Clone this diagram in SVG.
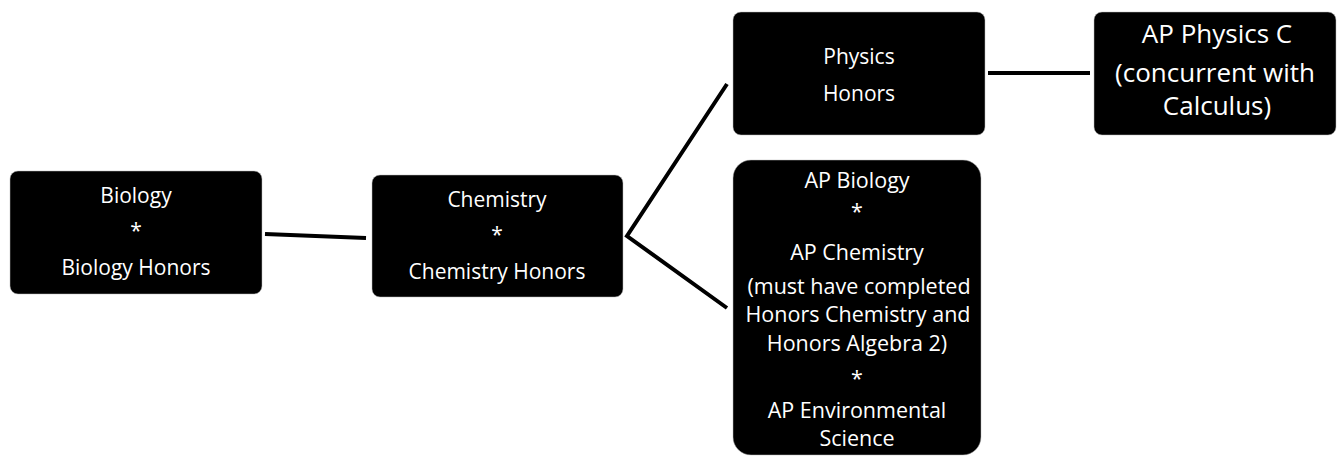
<svg xmlns="http://www.w3.org/2000/svg" width="1338" height="457" viewBox="0 0 1338 457">
<style>
.box{fill:#000;stroke:#bbb;stroke-width:0.5}
.t{font-family:"Open Sans","Noto Sans","Liberation Sans",sans-serif;font-size:21px;fill:#fff;text-anchor:middle}
.tm{font-size:21.5px}
.tl{font-size:26px}
.c{stroke:#000;stroke-width:4;fill:none;stroke-linecap:butt}
</style>
<rect width="1338" height="457" fill="#fff"/>
<g id="connectors">
<line class="c" x1="265" y1="234" x2="366" y2="238"/>
<polyline class="c" points="727,84 627,236 727,308"/>
<line class="c" x1="988" y1="73" x2="1090" y2="73"/>
</g>
<g id="biology">
<rect class="box" x="10" y="171" width="252" height="123" rx="8"/>
<text class="t" x="136" y="203">Biology</text>
<text class="t" x="136" y="238">*</text>
<text class="t" x="136" y="275">Biology Honors</text>
</g>
<g id="chemistry">
<rect class="box" x="372" y="175" width="251" height="122" rx="8"/>
<text class="t" x="497" y="207">Chemistry</text>
<text class="t" x="497" y="242">*</text>
<text class="t" x="497" y="279">Chemistry Honors</text>
</g>
<g id="physics">
<rect class="box" x="733" y="12" width="252" height="123" rx="8"/>
<text class="t" x="859" y="64">Physics</text>
<text class="t" x="859" y="101">Honors</text>
</g>
<g id="ap-physics">
<rect class="box" x="1094" y="12" width="242" height="123" rx="8"/>
<text class="t tl" x="1217" y="43">AP Physics C</text>
<text class="t tl" x="1215" y="82">(concurrent with</text>
<text class="t tl" x="1217" y="115">Calculus)</text>
</g>
<g id="ap-sciences">
<rect class="box" x="733" y="160" width="248" height="295" rx="18"/>
<text class="t tm" x="857" y="188">AP Biology</text>
<text class="t tm" x="857" y="219">*</text>
<text class="t tm" x="857" y="260">AP Chemistry</text>
<text class="t tm" x="859" y="294">(must have completed</text>
<text class="t tm" x="858" y="322">Honors Chemistry and</text>
<text class="t tm" x="857" y="351">Honors Algebra 2)</text>
<text class="t tm" x="857" y="386">*</text>
<text class="t tm" x="857" y="418">AP Environmental</text>
<text class="t tm" x="857" y="446">Science</text>
</g>
</svg>
